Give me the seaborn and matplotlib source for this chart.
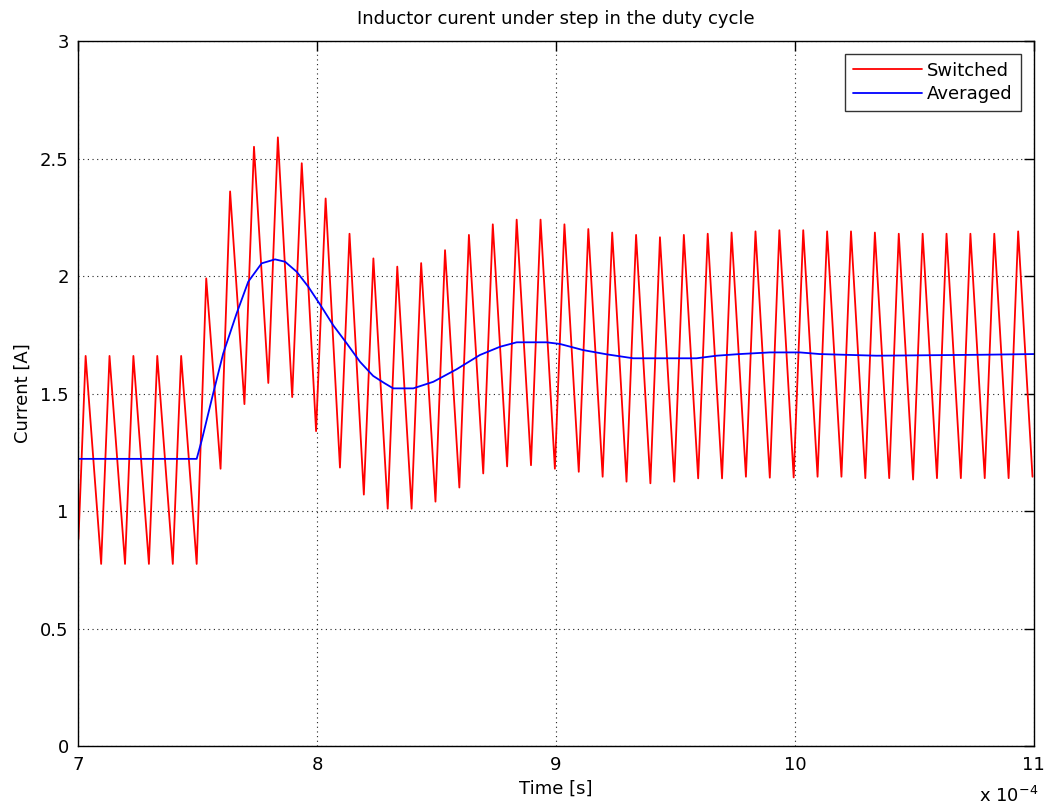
import numpy as np
import pandas as pd
import matplotlib
matplotlib.use("Agg")
import matplotlib.pyplot as plt
import seaborn as sns

# ---- data (time in units of 1e-4 s, current in A) ----
start_t = 7.0
start_i = 0.88

peak_t = [7.03, 7.13, 7.23, 7.33, 7.43,
          7.535, 7.635, 7.735, 7.835, 7.935, 8.035, 8.135, 8.235, 8.335, 8.435,
          8.535, 8.635, 8.735, 8.835, 8.935, 9.035, 9.135, 9.235, 9.335, 9.435,
          9.535, 9.635, 9.735, 9.835, 9.935, 10.035, 10.135, 10.235, 10.335, 10.435,
          10.535, 10.635, 10.735, 10.835, 10.935]
peak_i = [1.66, 1.66, 1.66, 1.66, 1.66,
          1.99, 2.36, 2.55, 2.59, 2.48, 2.33, 2.18, 2.075, 2.04, 2.055,
          2.11, 2.175, 2.22, 2.24, 2.24, 2.22, 2.20, 2.185, 2.175, 2.165,
          2.175, 2.18, 2.185, 2.19, 2.195, 2.195, 2.19, 2.19, 2.185, 2.18,
          2.18, 2.18, 2.18, 2.18, 2.19]

valley_t = [7.095, 7.195, 7.295, 7.395, 7.495, 7.595, 7.695, 7.795, 7.895, 7.995,
            8.095, 8.195, 8.295, 8.395, 8.495, 8.595, 8.695, 8.795, 8.895, 8.995,
            9.095, 9.195, 9.295, 9.395, 9.495, 9.595, 9.695, 9.795, 9.895, 9.995,
            10.095, 10.195, 10.295, 10.395, 10.495, 10.595, 10.695, 10.795, 10.895, 10.995]
valley_i = [0.775, 0.775, 0.775, 0.775, 0.775, 1.18, 1.455, 1.545, 1.485, 1.34,
            1.185, 1.07, 1.01, 1.01, 1.04, 1.10, 1.16, 1.19, 1.195, 1.18,
            1.167, 1.146, 1.125, 1.118, 1.125, 1.139, 1.139, 1.146, 1.142, 1.143,
            1.146, 1.146, 1.14, 1.14, 1.134, 1.14, 1.14, 1.14, 1.14, 1.146]

avg_t = [7.0, 7.495, 7.516, 7.564, 7.606, 7.662, 7.711, 7.767, 7.823, 7.865,
         7.914, 7.962, 8.011, 8.067, 8.123, 8.179, 8.234, 8.28, 8.318, 8.402,
         8.486, 8.583, 8.681, 8.765, 8.835, 8.96, 9.016, 9.113, 9.211, 9.323,
         9.588, 9.672, 9.769, 9.895, 10.021, 10.104, 10.342, 10.782, 11.0]
avg_i = [1.222, 1.222, 1.30, 1.50, 1.67, 1.84, 1.976, 2.054, 2.071, 2.061,
         2.018, 1.955, 1.88, 1.79, 1.714, 1.635, 1.575, 1.545, 1.522, 1.522,
         1.55, 1.603, 1.664, 1.699, 1.718, 1.718, 1.711, 1.685, 1.667, 1.65,
         1.65, 1.661, 1.668, 1.675, 1.675, 1.668, 1.661, 1.665, 1.668]

x_ticks = [7, 8, 9, 10, 11]
x_tick_labels = ["7", "8", "9", "10", "11"]
y_ticks = [0, 0.5, 1, 1.5, 2, 2.5, 3]
y_tick_labels = ["0", "0.5", "1", "1.5", "2", "2.5", "3"]

# ---- build tables ----
sw_t = [start_t]
sw_i = [start_i]
for pt, pi, vt, vi in zip(peak_t, peak_i, valley_t, valley_i):
    sw_t += [pt, vt]
    sw_i += [pi, vi]
df_sw = pd.DataFrame({"t": sw_t, "i": sw_i})
df_avg = pd.DataFrame({"t": avg_t, "i": avg_i})

sns.set_style("white")
plt.rcParams["font.family"] = ["DejaVu Sans"]
plt.rcParams["text.color"] = "black"
plt.rcParams["axes.labelcolor"] = "black"
plt.rcParams["xtick.color"] = "black"
plt.rcParams["ytick.color"] = "black"

fig = plt.figure(figsize=(10.49, 8.11), dpi=100)
ax = fig.add_axes([0.0748, 0.0801, 0.9106, 0.8693])

sns.lineplot(data=df_sw, x="t", y="i", sort=False, estimator=None, ax=ax,
             color="#ff0000", linewidth=1.3, label="Switched")
sns.lineplot(data=df_avg, x="t", y="i", sort=False, estimator=None, ax=ax,
             color="#0000ff", linewidth=1.3, label="Averaged")

ax.set_xlim(7, 11)
ax.set_ylim(0, 3)
ax.set_xticks(x_ticks)
ax.set_xticklabels(x_tick_labels)
ax.set_yticks(y_ticks)
ax.set_yticklabels(y_tick_labels)

ax.grid(True, color="#222222", linestyle=(0, (1, 3.2)), linewidth=0.8)
for s in ax.spines.values():
    s.set_visible(True)
    s.set_color("black")
    s.set_linewidth(1.0)
ax.tick_params(direction="in", length=7, width=1, colors="black",
               labelsize=13, top=True, right=True, pad=7)

ax.set_title("Inductor curent under step in the duty cycle", fontsize=13,
             pad=12, color="black")
ax.set_xlabel("Time [s]", fontsize=13, labelpad=4, color="black")
ax.set_ylabel("Current [A]", fontsize=13, labelpad=6, color="black")
fig.text(0.933, 0.006, r"x 10$^{-4}$", fontsize=13, ha="left", va="bottom",
         color="black")

leg = ax.legend(loc="upper right", fontsize=13, frameon=True, fancybox=False,
                borderaxespad=0.7, handlelength=3.8, borderpad=0.45,
                labelspacing=0.3, handletextpad=0.3)
leg.get_frame().set_edgecolor("black")
leg.get_frame().set_linewidth(1.0)
for t in leg.get_texts():
    t.set_color("black")

fig.savefig("out.png", dpi=100, facecolor="white")
